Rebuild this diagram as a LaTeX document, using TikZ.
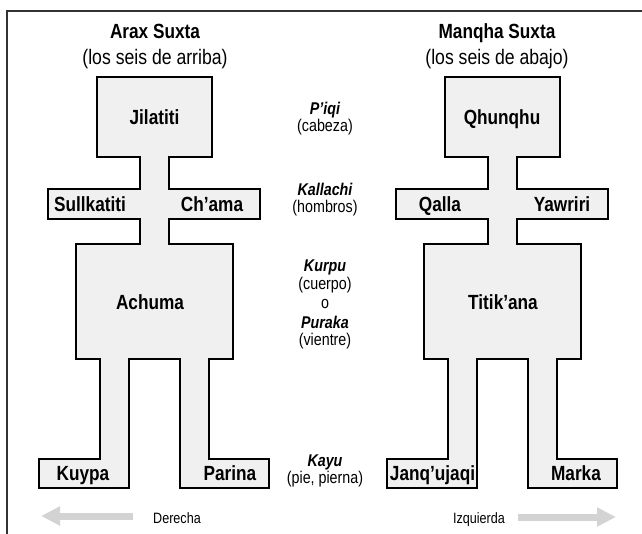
\documentclass[tikz,border=0pt]{standalone}
\usepackage{fontspec}
\setmainfont{Liberation Sans}[FakeStretch=0.84]
\usetikzlibrary{arrows.meta}
\definecolor{boxfill}{HTML}{F0F0F0}
\definecolor{arrowgray}{HTML}{D3D3D3}
\definecolor{framegray}{HTML}{333333}
\tikzset{
  figshape/.style={draw=black, fill=boxfill, line width=1.3pt, line join=miter},
  big/.style={font=\fontsize{20.5}{24}\selectfont\bfseries, inner sep=0pt, anchor=base},
  sub/.style={font=\fontsize{21}{25}\selectfont, inner sep=0pt, anchor=base},
  mid/.style={font=\fontsize{17}{20}\selectfont, inner sep=0pt, anchor=base},
  midb/.style={font=\fontsize{17}{20}\selectfont\bfseries\itshape, inner sep=0pt, anchor=base},
  side/.style={font=\fontsize{15}{18}\selectfont, inner sep=0pt, anchor=base},
  dirarrow/.style={draw=arrowgray, line width=7pt, -{Triangle[length=19pt,width=18pt]}},
  frameline/.style={draw=framegray, line width=1.2pt},
}
\newcommand{\figurepath}{%
  (-57.5,77) -- (57.5,77) -- (57.5,157) -- (14.5,157) -- (14.5,189) -- (105.5,189) --
  (105.5,219) -- (14.5,219) -- (14.5,244) -- (78.5,244) -- (78.5,359) -- (54.5,359) --
  (54.5,459) -- (114.5,459) -- (114.5,488) -- (25.5,488) -- (25.5,359) -- (-25.5,359) --
  (-25.5,488) -- (-115.5,488) -- (-115.5,459) -- (-54.5,459) -- (-54.5,359) -- (-78.5,359) --
  (-78.5,244) -- (-14.5,244) -- (-14.5,219) -- (-106.5,219) -- (-106.5,189) -- (-14.5,189) --
  (-14.5,157) -- (-57.5,157) -- cycle}
\begin{document}
\begin{tikzpicture}[x=1pt, y=-1pt]
\useasboundingbox (0,0) rectangle (642,533);
% frame
\draw[frameline] (7,545) -- (7,11) -- (650,11);

% left figure
\begin{scope}[xshift=154.5pt]
  \path[figshape] \figurepath;
\end{scope}
% right figure
\begin{scope}[xshift=502.5pt]
  \path[figshape] \figurepath;
\end{scope}

% titles
\node[big] (t1) at (155,38) {Arax Suxta};
\node[sub] (s1) at (155,64) {(los seis de arriba)};
\node[big] (t2) at (497,38) {Manqha Suxta};
\node[sub] (s2) at (497,64) {(los seis de abajo)};

% left labels
\node[big] (jil) at (154.5,124.5) {Jilatiti};
\node[big] (sul) at (90,211) {Sullkatiti};
\node[big] (cha) at (212,211) {Ch’ama};
\node[big] (ach) at (150,309) {Achuma};
\node[big] (kuy) at (83,480) {Kuypa};
\node[big] (par) at (230,480) {Parina};

% right labels
\node[big] (qhu) at (502,124.5) {Qhunqhu};
\node[big] (qal) at (440,211) {Qalla};
\node[big] (yaw) at (562,211) {Yawriri};
\node[big] (tit) at (503,309) {Titik’ana};
\node[big] (jan) at (432.5,480) {Janq’ujaqi};
\node[big] (mar) at (576,480) {Marka};

% middle labels
\node[midb] (piq) at (325,114) {P’iqi};
\node[mid] (cab) at (325,131) {(cabeza)};
\node[midb] (kal) at (325,195) {Kallachi};
\node[mid] (hom) at (325,212) {(hombros)};
\node[midb] (kur) at (325,271) {Kurpu};
\node[mid] (cue) at (325,289) {(cuerpo)};
\node[mid] (oo) at (325,308) {o};
\node[midb] (pur) at (325,328) {Puraka};
\node[mid] (vie) at (325,345) {(vientre)};
\node[midb] (kay) at (325,466) {Kayu};
\node[mid] (pie) at (325,483) {(pie, pierna)};

% directions
\node[side] (der) at (177,523) {Derecha};
\node[side] (izq) at (479,523) {Izquierda};
\coordinate (la1) at (133,516);
\coordinate (la2) at (41,516);
\coordinate (ra1) at (518,517);
\coordinate (ra2) at (616,517);
\draw[dirarrow] (la1) -- (la2);
\draw[dirarrow] (ra1) -- (ra2);
\end{tikzpicture}
\end{document}
